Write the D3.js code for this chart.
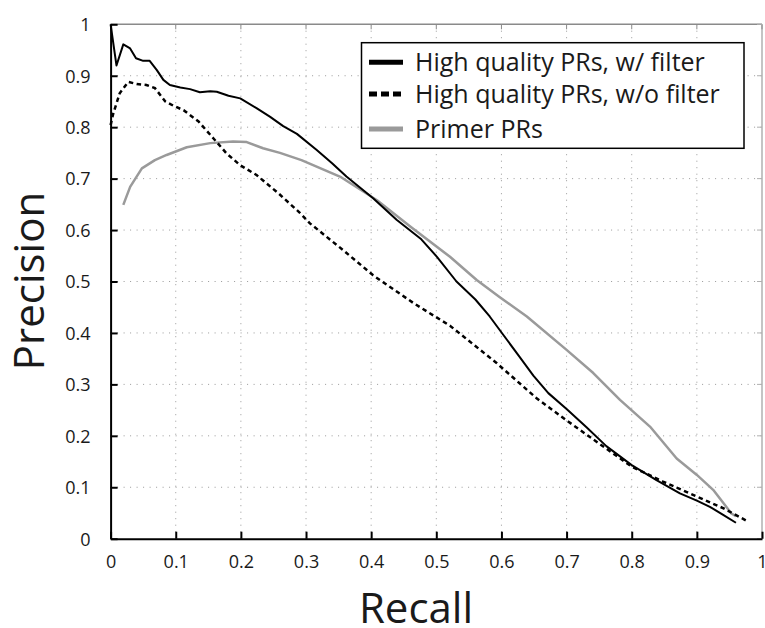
<!DOCTYPE html>
<html><head><meta charset="utf-8">
<script src="https://cdn.jsdelivr.net/npm/d3@7"></script>
<style>
html,body{margin:0;padding:0;background:#fff;}
text{font-family:"Open Sans",sans-serif;fill:#1a1a1a;}
</style></head>
<body><svg id="c" width="765" height="628"></svg>
<script>
const xTicks = [0,0.1,0.2,0.3,0.4,0.5,0.6,0.7,0.8,0.9,1];
const yTicks = [0,0.1,0.2,0.3,0.4,0.5,0.6,0.7,0.8,0.9,1];
const xTickLabels = ["0","0.1","0.2","0.3","0.4","0.5","0.6","0.7","0.8","0.9","1"];
const yTickLabels = ["0","0.1","0.2","0.3","0.4","0.5","0.6","0.7","0.8","0.9","1"];
const seriesNames = ["High quality PRs, w/ filter","High quality PRs, w/o filter","Primer PRs"];

const recallFilter = [0,0.009,0.0195,0.03,0.039,0.05,0.06,0.071,0.081,0.091,0.107,0.122,0.137,0.153,0.163,0.181,0.199,0.224,0.245,0.265,0.286,0.316,0.340,0.362,0.403,0.439,0.477,0.501,0.531,0.560,0.582,0.603,0.627,0.649,0.672,0.700,0.731,0.761,0.800,0.838,0.874,0.900,0.920,0.941,0.960];
const precFilter   = [1.0,0.92,0.961,0.953,0.934,0.929,0.929,0.911,0.892,0.882,0.877,0.874,0.868,0.870,0.869,0.861,0.856,0.837,0.820,0.802,0.787,0.756,0.730,0.704,0.662,0.620,0.582,0.548,0.500,0.465,0.432,0.396,0.355,0.317,0.283,0.252,0.216,0.180,0.143,0.114,0.088,0.074,0.062,0.046,0.031];

const recallNoFilter = [0,0.004,0.014,0.027,0.040,0.055,0.068,0.084,0.096,0.112,0.135,0.158,0.178,0.199,0.224,0.258,0.291,0.306,0.357,0.403,0.465,0.521,0.593,0.654,0.700,0.751,0.800,0.848,0.900,0.941,0.979];
const precNoFilter   = [0.804,0.826,0.866,0.888,0.884,0.882,0.876,0.850,0.842,0.833,0.811,0.778,0.749,0.726,0.707,0.671,0.633,0.613,0.561,0.512,0.458,0.414,0.341,0.273,0.230,0.184,0.140,0.111,0.082,0.059,0.033];

const recallPrimer = [0.0195,0.030,0.048,0.068,0.086,0.117,0.153,0.188,0.209,0.234,0.260,0.293,0.352,0.409,0.460,0.521,0.562,0.597,0.639,0.700,0.741,0.782,0.828,0.869,0.900,0.925,0.941,0.953,0.960];
const precPrimer   = [0.649,0.684,0.720,0.736,0.746,0.761,0.769,0.772,0.771,0.759,0.750,0.736,0.704,0.658,0.607,0.548,0.503,0.470,0.432,0.367,0.322,0.270,0.218,0.156,0.124,0.095,0.069,0.049,0.044];

const svg = d3.select("#c");
const L = 110.6, R = 762, T = 24.3, B = 538.7;
const x = d3.scaleLinear().domain([0,1]).range([L,R]);
const y = d3.scaleLinear().domain([0,1]).range([B,T]);

// grid
const g = svg.append("g");
g.selectAll(".gx").data(xTicks.slice(1,-1)).enter().append("line")
  .attr("x1",d=>x(d)).attr("x2",d=>x(d)).attr("y1",B).attr("y2",T)
  .attr("stroke","#999").attr("stroke-width",1).attr("stroke-dasharray","1,5.5");
g.selectAll(".gy").data(yTicks.slice(1,-1)).enter().append("line")
  .attr("y1",d=>y(d)).attr("y2",d=>y(d)).attr("x1",L).attr("x2",R)
  .attr("stroke","#999").attr("stroke-width",1).attr("stroke-dasharray","1,5.5");

// top & right frame (gray) with inward ticks
svg.append("line").attr("x1",L).attr("x2",R).attr("y1",T).attr("y2",T).attr("stroke","#8a8a8a").attr("stroke-width",1.5);
svg.append("line").attr("x1",R).attr("x2",R).attr("y1",T).attr("y2",B).attr("stroke","#b0b0b0").attr("stroke-width",1.5);
svg.selectAll(".tt").data(xTicks).enter().append("line")
  .attr("x1",d=>x(d)).attr("x2",d=>x(d)).attr("y1",T).attr("y2",T+5).attr("stroke","#8a8a8a");
svg.selectAll(".rt").data(yTicks).enter().append("line")
  .attr("y1",d=>y(d)).attr("y2",d=>y(d)).attr("x1",R).attr("x2",R-5).attr("stroke","#b0b0b0");

// axes
const xAxis = d3.axisBottom(x).tickValues(xTicks).tickFormat((d,i)=>xTickLabels[i]).tickSizeInner(-7).tickSizeOuter(0).tickPadding(17);
const yAxis = d3.axisLeft(y).tickValues(yTicks).tickFormat((d,i)=>yTickLabels[i]).tickSizeInner(-7).tickSizeOuter(0).tickPadding(20);
const gx = svg.append("g").attr("transform",`translate(0,${B})`).call(xAxis);
const gy = svg.append("g").attr("transform",`translate(${L},0)`).call(yAxis);
[gx,gy].forEach(a=>{
  a.select(".domain").attr("stroke","#000").attr("stroke-width",2);
  a.selectAll(".tick line").attr("stroke","#000").attr("stroke-width",2);
  a.selectAll(".tick text").attr("font-family","Open Sans").attr("font-size",18).attr("fill","#1a1a1a");
});
gy.selectAll(".tick text").attr("dy","0.35em");

// lines
const line = d3.line().x(d=>x(d[0])).y(d=>y(d[1]));
const zip = (a,b)=>a.map((v,i)=>[v,b[i]]);
svg.append("path").datum(zip(recallPrimer,precPrimer)).attr("d",line)
  .attr("fill","none").attr("stroke","#9a9a9a").attr("stroke-width",2.5).attr("stroke-linejoin","round");
svg.append("path").datum(zip(recallNoFilter,precNoFilter)).attr("d",line)
  .attr("fill","none").attr("stroke","#000").attr("stroke-width",2.5).attr("stroke-dasharray","4.5,3.5");
svg.append("path").datum(zip(recallFilter,precFilter)).attr("d",line)
  .attr("fill","none").attr("stroke","#000").attr("stroke-width",2).attr("stroke-linejoin","round");

// legend
const lg = svg.append("g");
lg.append("rect").attr("x",361.5).attr("y",42.7).attr("width",382.5).attr("height",105.6)
  .attr("fill","#fff").attr("stroke","#000").attr("stroke-width",1.5);
const rows = [62.3,94,129];
const styles = [{c:"#000",d:null},{c:"#000",d:"8,4"},{c:"#9a9a9a",d:null}];
seriesNames.forEach((n,i)=>{
  const s = lg.append("line").attr("x1",369).attr("x2",403).attr("y1",rows[i]).attr("y2",rows[i])
    .attr("stroke",styles[i].c).attr("stroke-width",5);
  if(styles[i].d) s.attr("stroke-dasharray",styles[i].d);
  lg.append("text").attr("x",415).attr("y",rows[i]).attr("dy","0.35em")
    .attr("font-size",25).text(n);
});

// axis titles
svg.append("text").attr("x",416).attr("y",623).attr("text-anchor","middle").attr("font-size",42).text("Recall");
svg.append("text").attr("transform","translate(44,281) rotate(-90)").attr("text-anchor","middle").attr("font-size",42).text("Precision");
</script></body></html>
